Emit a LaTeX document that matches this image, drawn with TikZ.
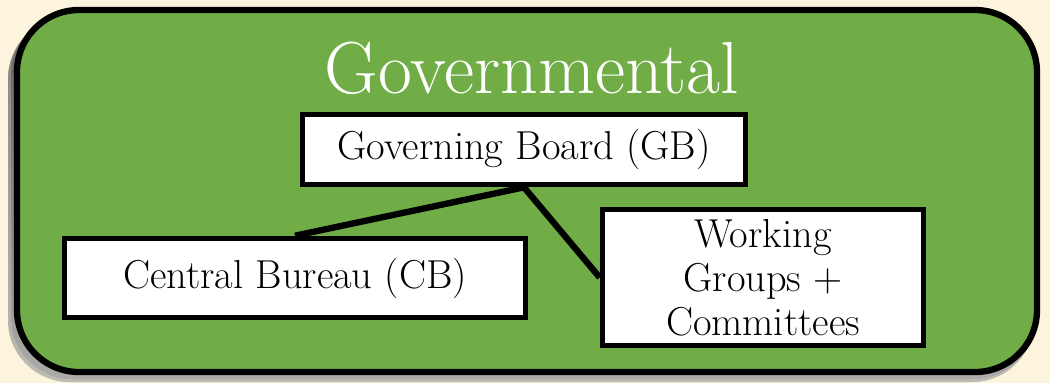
\documentclass[tikz,border=0pt]{standalone}
\usetikzlibrary{shadows}
\definecolor{paper}{RGB}{253,244,222}
\definecolor{govgreen}{RGB}{112,173,71}
\definecolor{shade}{RGB}{150,140,120}
\tikzset{
  orgbox/.style={draw=black, line width=3.2pt, fill=white, inner sep=0pt,
    align=center, font=\fontsize{23}{25}\selectfont},
  link/.style={line width=3.6pt}
}
\begin{document}
\begin{tikzpicture}[x=0.02cm,y=-0.02cm]
      \useasboundingbox[fill=paper] (0,0) rectangle (1050,383);
      \fill[shade, opacity=0.45, rounded corners=1.24cm] (8,17) rectangle (1034,382);
      \fill[shade, opacity=0.45, rounded corners=1.24cm] (11,14) rectangle (1035,379);
      \draw[line width=3.6pt, fill=govgreen, rounded corners=1.24cm] (17,10) rectangle (1037,372);
      \draw
        (532,68) node[text=white, font=\fontsize{42}{48}\selectfont] (gov){Governmental}
        (524,149.5) node[orgbox, minimum width=8.86cm, minimum height=1.4cm] (gb){Governing Board (GB)}
        (295,278) node[orgbox, minimum width=9.22cm, minimum height=1.58cm] (cb){Central Bureau (CB)}
        (763,277.5) node[orgbox, minimum width=6.42cm, minimum height=2.72cm] (wg){Working\\Groups +\\Committees};
      \begin{scope}[link]
        \draw (gb.south) to (cb.north);
        \draw (gb.south) to (wg.west);
      \end{scope}
    \end{tikzpicture}
\end{document}
